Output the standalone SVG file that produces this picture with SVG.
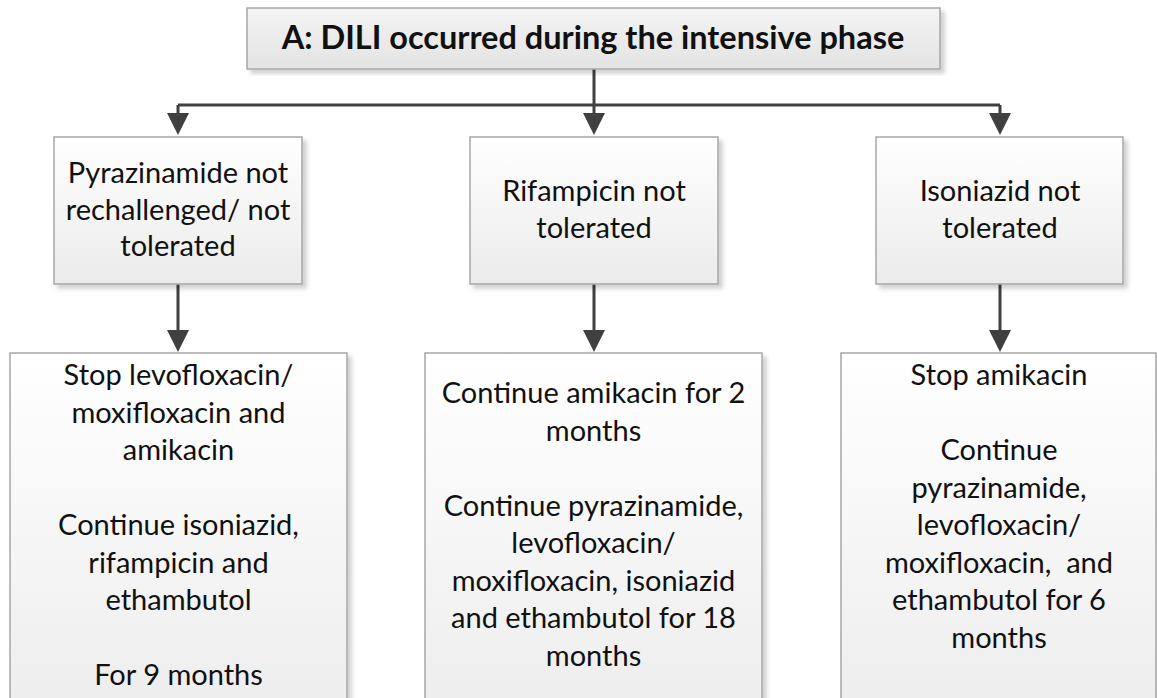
<svg xmlns="http://www.w3.org/2000/svg" width="1157" height="698" viewBox="0 0 1157 698">
<defs>
<linearGradient id="gTitle" x1="0" y1="0" x2="0" y2="1">
<stop offset="0" stop-color="#f4f4f4"/>
<stop offset="1" stop-color="#e3e3e3"/>
</linearGradient>
<linearGradient id="gBox" x1="0" y1="0" x2="0" y2="1">
<stop offset="0" stop-color="#ffffff"/>
<stop offset="1" stop-color="#ebebeb"/>
</linearGradient>
<linearGradient id="gLow" x1="0" y1="0" x2="0" y2="1">
<stop offset="0" stop-color="#ffffff"/>
<stop offset="1" stop-color="#ececec"/>
</linearGradient>
<filter id="sh" x="-5%" y="-5%" width="115%" height="115%">
<feDropShadow dx="4" dy="4" stdDeviation="2" flood-color="#000" flood-opacity="0.18"/>
</filter>
</defs>
<style>
.box{stroke:#a6a6a6;stroke-width:1.5;filter:url(#sh)}
.t{font-family:Lato,"Open Sans",sans-serif;font-size:29px;fill:#111;text-anchor:middle}
.title{font-family:Lato,"Open Sans",sans-serif;font-size:32.5px;font-weight:bold;fill:#111;text-anchor:middle}
.c{stroke:#404040;stroke-width:3;fill:none}
.ah{fill:#404040}
</style>
<g id="connectors">
<path class="c" d="M594,69 V113"/>
<path class="ah" d="M583,113 L605,113 L594,135 Z"/>
<path class="c" d="M178,105 H1000"/>
<path class="c" d="M178,105 V113"/>
<path class="ah" d="M167,113 L189,113 L178,135 Z"/>
<path class="c" d="M1000,105 V113"/>
<path class="ah" d="M989,113 L1011,113 L1000,135 Z"/>
<path class="c" d="M178,284 V331"/>
<path class="ah" d="M167,330 L189,330 L178,352 Z"/>
<path class="c" d="M594,284 V331"/>
<path class="ah" d="M583,330 L605,330 L594,352 Z"/>
<path class="c" d="M1000,284 V331"/>
<path class="ah" d="M989,330 L1011,330 L1000,352 Z"/>
</g>
<g id="title">
<rect class="box" x="247" y="8" width="693" height="61" fill="url(#gTitle)"/>
<text class="title" x="593" y="49">A: DILI occurred during the intensive phase</text>
</g>
<g id="pyrazinamide">
<rect class="box" x="54" y="137" width="248" height="147" fill="url(#gBox)"/>
<text class="t" x="178" y="183">Pyrazinamide not</text>
<text class="t" x="178" y="219.5">rechallenged/ not</text>
<text class="t" x="178" y="256">tolerated</text>
</g>
<g id="rifampicin">
<rect class="box" x="470" y="137" width="248" height="147" fill="url(#gBox)"/>
<text class="t" x="594" y="201">Rifampicin not</text>
<text class="t" x="594" y="237.5">tolerated</text>
</g>
<g id="isoniazid">
<rect class="box" x="876" y="137" width="247" height="147" fill="url(#gBox)"/>
<text class="t" x="1000" y="201">Isoniazid not</text>
<text class="t" x="1000" y="237.5">tolerated</text>
</g>
<g id="regimen-pyrazinamide">
<rect class="box" x="10" y="353" width="337" height="380" fill="url(#gLow)"/>
<text class="t" x="178.5" y="385">Stop levofloxacin/</text>
<text class="t" x="178.5" y="422.5">moxifloxacin and</text>
<text class="t" x="178.5" y="460">amikacin</text>
<text class="t" x="178.5" y="535">Continue isoniazid,</text>
<text class="t" x="178.5" y="572.5">rifampicin and</text>
<text class="t" x="178.5" y="610">ethambutol</text>
<text class="t" x="178.5" y="685">For 9 months</text>
</g>
<g id="regimen-rifampicin">
<rect class="box" x="425" y="353" width="337" height="380" fill="url(#gLow)"/>
<text class="t" x="593.5" y="403">Continue amikacin for 2</text>
<text class="t" x="593.5" y="440.5">months</text>
<text class="t" x="593.5" y="515.5">Continue pyrazinamide,</text>
<text class="t" x="593.5" y="553">levofloxacin/</text>
<text class="t" x="593.5" y="590.5">moxifloxacin, isoniazid</text>
<text class="t" x="593.5" y="628">and ethambutol for 18</text>
<text class="t" x="593.5" y="665.5">months</text>
</g>
<g id="regimen-isoniazid">
<rect class="box" x="841" y="353" width="315" height="380" fill="url(#gLow)"/>
<text class="t" x="999" y="385">Stop amikacin</text>
<text class="t" x="999" y="460">Continue</text>
<text class="t" x="999" y="497.5">pyrazinamide,</text>
<text class="t" x="999" y="535">levofloxacin/</text>
<text class="t" x="999" y="572.5" xml:space="preserve">moxifloxacin,  and</text>
<text class="t" x="999" y="610">ethambutol for 6</text>
<text class="t" x="999" y="647.5">months</text>
</g>
</svg>
